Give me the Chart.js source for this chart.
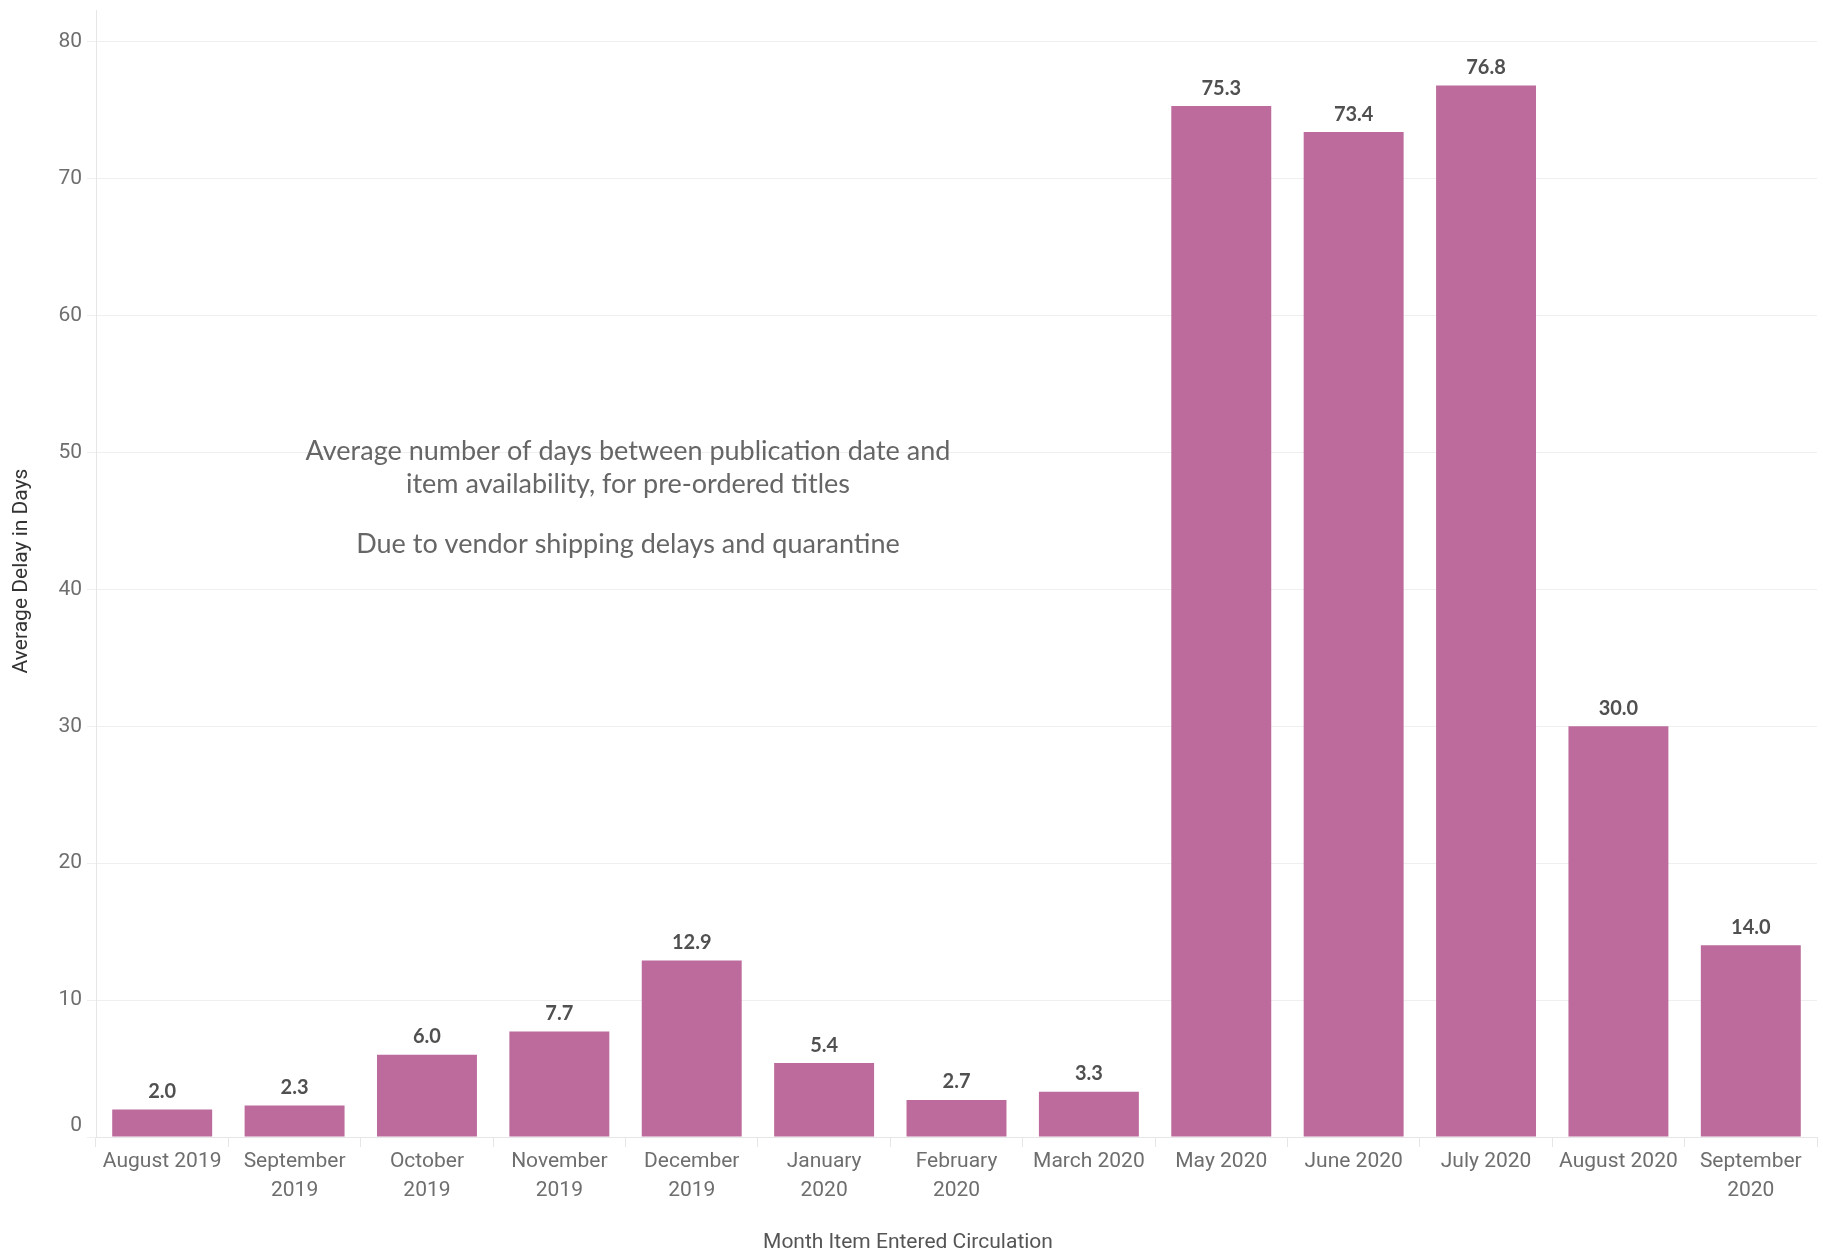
<!DOCTYPE html>
<html>
<head>
<meta charset="utf-8">
<script src="https://cdn.jsdelivr.net/npm/chart.js@4"></script>
<style>
  html, body { margin: 0; padding: 0; background: #fff; }
  canvas { display: block; }
</style>
</head>
<body>
<canvas id="grafico" width="1823" height="1254"></canvas>
<script>
// dati
const mesi = [
    ['August 2019'], ['September', '2019'], ['October', '2019'], ['November', '2019'],
    ['December', '2019'], ['January', '2020'], ['February', '2020'], ['March 2020'],
    ['May 2020'], ['June 2020'], ['July 2020'], ['August 2020'], ['September', '2020']
];
const ritardoMedio = [2.0, 2.3, 6.0, 7.7, 12.9, 5.4, 2.7, 3.3, 75.3, 73.4, 76.8, 30.0, 14.0];
const tickY = [0, 10, 20, 30, 40, 50, 60, 70, 80];

const titoloX = 'Month Item Entered Circulation';
const titoloY = 'Average Delay in Days';
const nota = [
    'Average number of days between publication date and',
    'item availability, for pre-ordered titles',
    '',
    'Due to vendor shipping delays and quarantine'
];

const coloreBarre = '#bc6b9c';
const grigioTick = '#6e6e6e';

// etichette sopra le barre, nota e titoli degli assi
const extra = {
    id: 'extra',
    afterDatasetsDraw(chart) {
        const ctx = chart.ctx;
        const meta = chart.getDatasetMeta(0);
        const y = chart.scales.y;
        ctx.save();
        ctx.fillStyle = '#505050';
        ctx.font = 'bold 20px Lato';
        ctx.textAlign = 'center';
        ctx.textBaseline = 'middle';
        meta.data.forEach((bar, i) => {
            ctx.fillText(ritardoMedio[i].toFixed(1), bar.x, bar.y - 18);
        });

        // lo zero dell'asse y sta un po' sopra la linea di base
        ctx.fillStyle = grigioTick;
        ctx.font = '21px Roboto';
        ctx.textAlign = 'right';
        ctx.fillText('0', y.right - 14, y.getPixelForValue(0) - 11);
        ctx.textAlign = 'center';

        ctx.fillStyle = '#666';
        ctx.font = '27px Lato';
        const righe = [451, 484, 517, 544];
        nota.forEach((r, i) => {
            if (r) ctx.fillText(r, 628, righe[i]);
        });

        ctx.fillStyle = '#555';
        ctx.font = '21px Roboto';
        ctx.fillText(titoloX, 908, 1243);

        ctx.translate(22, 571);
        ctx.rotate(-Math.PI / 2);
        ctx.fillStyle = '#333';
        ctx.font = '21px Roboto';
        ctx.fillText(titoloY, 0, 0);
        ctx.restore();
    }
};

const ctx = document.getElementById('grafico');
new Chart(ctx, {
    type: 'bar',
    data: {
        labels: mesi,
        datasets: [{
            label: titoloY,
            data: ritardoMedio,
            backgroundColor: coloreBarre,
            borderWidth: 0,
            categoryPercentage: 1,
            barPercentage: 0.755
        }]
    },
    options: {
        responsive: false,
        animation: false,
        devicePixelRatio: 1,
        layout: {
            padding: { top: 6, right: 6, left: 0, bottom: 0 }
        },
        scales: {
            x: {
                offset: true,
                grid: {
                    offset: true,
                    drawOnChartArea: false,
                    drawTicks: true,
                    tickLength: 10,
                    color: '#e6e6e6'
                },
                border: { color: '#e6e6e6' },
                ticks: {
                    color: grigioTick,
                    font: { family: 'Roboto', size: 21, lineHeight: 1.4 },
                    padding: 0,
                    maxRotation: 0,
                    autoSkip: false
                },
                afterFit: s => { s.height = 117; }
            },
            y: {
                min: 0,
                max: 82.3,
                afterBuildTicks: s => { s.ticks = tickY.map(v => ({ value: v })); },
                grid: {
                    color: '#efefef',
                    tickLength: 9
                },
                border: { color: '#e6e6e6' },
                ticks: {
                    color: c => c.tick && c.tick.value === 0 ? 'rgba(0,0,0,0)' : grigioTick,
                    font: { family: 'Roboto', size: 21, lineHeight: 0.5 },
                    padding: 5
                },
                afterFit: s => { s.width = 96; }
            }
        },
        plugins: {
            legend: { display: false },
            tooltip: { enabled: false }
        }
    },
    plugins: [extra]
});
</script>
</body>
</html>
